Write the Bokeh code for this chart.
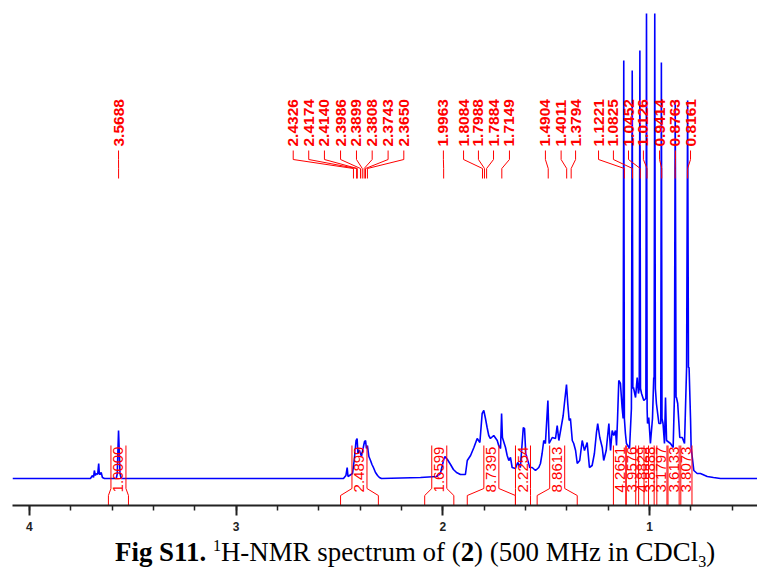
import numpy as np
from bokeh.plotting import figure
from bokeh.models import Range1d, FixedTicker, Div
from bokeh.layouts import column
from bokeh.core.properties import value
from bokeh.embed import file_html
from bokeh.resources import INLINE

# ---------------- data ----------------
# spectrum trace vertices (chemical shift in ppm, intensity in arbitrary units)
trace_ppm = [4.082, 3.705, 3.695, 3.690, 3.686, 3.681, 3.676, 3.670, 3.665, 3.662, 3.659, 3.653, 3.647, 3.637,
             3.580, 3.575, 3.572, 3.569, 3.566, 3.562, 3.556,
             2.481, 2.469, 2.463, 2.459, 2.437, 2.428, 2.420, 2.415, 2.411, 2.403, 2.394, 2.384, 2.379, 2.374,
             2.370, 2.365, 2.358, 2.350, 2.343, 2.336, 2.326, 2.316, 2.307, 2.297,
             2.108, 2.031, 2.012, 1.997, 1.990, 1.978, 1.963, 1.949, 1.934, 1.915, 1.891,
             1.882, 1.866, 1.850, 1.834, 1.821, 1.810, 1.802, 1.794, 1.786, 1.778, 1.770, 1.754, 1.737, 1.730,
             1.721, 1.716, 1.712, 1.697, 1.689, 1.681, 1.673, 1.665, 1.649, 1.638, 1.625, 1.611, 1.605, 1.599,
             1.589, 1.580, 1.568, 1.552, 1.536, 1.528, 1.520, 1.512, 1.504, 1.492, 1.486, 1.471, 1.455, 1.447,
             1.439, 1.428, 1.418, 1.412, 1.402, 1.396, 1.389, 1.383, 1.374, 1.367, 1.358, 1.350, 1.338, 1.326,
             1.315, 1.302, 1.291, 1.278, 1.267, 1.257, 1.251, 1.241, 1.229, 1.222, 1.210, 1.197, 1.189, 1.181,
             1.173, 1.165, 1.160, 1.155, 1.149, 1.141, 1.133, 1.128, 1.125, 1.122, 1.117, 1.112, 1.097, 1.088,
             1.084, 1.081, 1.078, 1.068, 1.060, 1.054, 1.050, 1.047, 1.044, 1.039, 1.028, 1.018, 1.015, 1.012,
             1.010, 1.004, 0.996, 0.986, 0.980, 0.978, 0.975, 0.972, 0.967, 0.955, 0.946, 0.943, 0.940, 0.935,
             0.928, 0.923, 0.918, 0.899, 0.886, 0.880, 0.876, 0.872, 0.870, 0.864, 0.854, 0.842, 0.831, 0.821,
             0.816, 0.812, 0.809, 0.802, 0.799, 0.786, 0.770, 0.754, 0.721, 0.691, 0.657, 0.478]
trace_int = [0, 0, 3, 1, 8, 3, 5, 4, 15, 5, 4, 6, 1, 0,
             0, 5, 28, 48, 30, 5, 0,
             0, 3, 11, 2, 5, 20, 38, 40, 25, 28, 22, 32, 37, 38,
             30, 33, 22, 18, 14, 11, 6, 3, 1, 0,
             1, 2, 5, 18, 22, 19, 14, 9, 6, 4, 4,
             18, 23, 31, 40, 36, 65, 68, 60, 51, 43, 40, 43, 38, 33,
             30, 65, 41, 31, 23, 18, 21, 11, 10, 16, 11, 51, 50, 25,
             18, 11, 11, 8, 11, 15, 25, 38, 35, 78, 35, 41, 40, 53,
             38, 51, 63, 75, 94, 75, 58, 60, 38, 35, 28, 15, 18, 38,
             28, 36, 11, 13, 25, 46, 55, 41, 31, 18, 28, 55, 28, 48,
             43, 48, 33, 60, 98, 95, 71, 60, 418, 60, 45, 35, 30, 70,
             408, 90, 91, 81, 101, 85, 90, 428, 90, 85, 78, 80, 465, 70,
             55, 61, 35, 60, 101, 100, 465, 90, 75, 55, 55, 416, 60, 55,
             35, 81, 38, 35, 31, 81, 378, 81, 81, 75, 41, 41, 35, 111,
             378, 111, 111, 60, 31, 8, 5, 5, 2, 1, 0, 0]

# picked peaks (ppm) and where their labels are displayed (ppm)
peak_ppm = [3.5688, 2.4326, 2.4174, 2.4140, 2.3986, 2.3899, 2.3808, 2.3743, 2.3650, 1.9963,
            1.8084, 1.7988, 1.7884, 1.7149, 1.4904, 1.4011, 1.3794, 1.1221, 1.0825, 1.0452,
            1.0126, 0.9414, 0.8763, 0.8161]
label_ppm = [3.569, 2.724, 2.649, 2.573, 2.495, 2.418, 2.342, 2.265, 2.189, 1.9975,
             1.900, 1.828, 1.755, 1.678, 1.504, 1.428, 1.358, 1.247, 1.175, 1.102,
             1.030, 0.952, 0.875, 0.802]

# integrals: value, region start and end (ppm)
int_vals = ["1.0000", "2.4899", "1.6599", "8.7395", "2.2254", "8.8613", "4.2651", "3.9576",
            "4.8829", "3.8888", "3.1797", "3.6133", "3.8073"]
int_from = [3.618, 2.495, 2.088, 1.882, 1.649, 1.544, 1.175, 1.115, 1.067, 1.027, 0.978, 0.911, 0.857]
int_to = [3.521, 2.312, 1.947, 1.649, 1.576, 1.350, 1.113, 1.053, 1.005, 0.965, 0.916, 0.849, 0.795]

major_ticks = [1, 2, 3, 4]
minor_ticks = [0.6, 0.8, 1.0, 1.2, 1.4, 1.6, 1.8, 2.0, 2.2, 2.4, 2.6, 2.8, 3.0, 3.2, 3.4, 3.6, 3.8, 4.0]

caption_html = ('<b>Fig S11.</b> <sup style="font-size:16px;line-height:0">1</sup>H-NMR spectrum of '
                '(<b>2</b>) (500 MHz in CDCl<sub style="font-size:16px;line-height:0">3</sub>)')

# ---------------- figure ----------------
RED = "#ff0000"
BLUE = "#0000ff"

p = figure(width=757, height=533, output_backend="svg", toolbar_location=None,
           x_range=Range1d(4.082, 0.478), y_range=Range1d(-27, 470),
           y_axis_location=None, min_border_left=12, min_border_right=0,
           min_border_top=8, min_border_bottom=28, outline_line_color=None,
           background_fill_color="white", border_fill_color="white")
p.xgrid.visible = False
p.ygrid.visible = False

# spectrum
p.line(trace_ppm, trace_int, line_color=BLUE, line_width=1.6)

# peak labels and connectors
px, py = [], []
for lp, pk in zip(label_ppm, peak_ppm):
    px.append([lp, lp, pk, pk])
    py.append([328, 319, 310, 300])
p.multi_line(px, py, line_color=RED, line_width=1)
p.text(x=label_ppm, y=[332] * len(label_ppm), text=["%.4f" % v for v in peak_ppm],
       angle=np.pi / 2, text_align="left", text_baseline="middle",
       text_color=RED, text_font=value("Liberation Sans"), text_font_style="bold",
       text_font_size="15.5px")

# integrals
h = 0.0363
ix, iy, tx = [], [], []
for a, b in zip(int_from, int_to):
    c = (a + b) / 2
    tx.append(c)
    if (a - b) / 2 <= h + 1e-9:
        ix += [[a, a], [b, b]]
        iy += [[33, -27], [33, -27]]
    else:
        ix += [[c + h, c + h, a, a], [c - h, c - h, b, b]]
        iy += [[33, -10, -17, -27], [33, -10, -17, -27]]
p.multi_line(ix, iy, line_color=RED, line_width=1)
p.text(x=tx, y=[9] * len(tx), text=int_vals, angle=np.pi / 2, text_align="center",
       text_baseline="middle", text_color=RED, text_font=value("Liberation Sans"),
       text_font_size="15px")

# axis
ax = p.xaxis[0]
ax.ticker = FixedTicker(ticks=major_ticks, minor_ticks=minor_ticks)
ax.axis_line_width = 2
ax.axis_line_color = "#222222"
ax.major_tick_line_color = "#222222"
ax.major_tick_line_width = 2
ax.minor_tick_line_color = "#222222"
ax.minor_tick_line_width = 1.5
ax.major_tick_in = 0
ax.major_tick_out = 10
ax.minor_tick_in = 0
ax.minor_tick_out = 5
ax.major_label_standoff = 6
ax.major_label_text_font = "Liberation Sans"
ax.major_label_text_font_style = "bold"
ax.major_label_text_font_size = "12px"
ax.major_label_text_color = "#222222"

cap = Div(text=caption_html, width=757, height=28,
          styles={"font-family": "Liberation Serif", "font-size": "26.9px", "padding-left": "110px",
                  "line-height": "28px", "white-space": "nowrap", "color": "#000000"})

layout = column(p, cap, spacing=0)
open("out.html", "w").write(file_html(layout, INLINE))
